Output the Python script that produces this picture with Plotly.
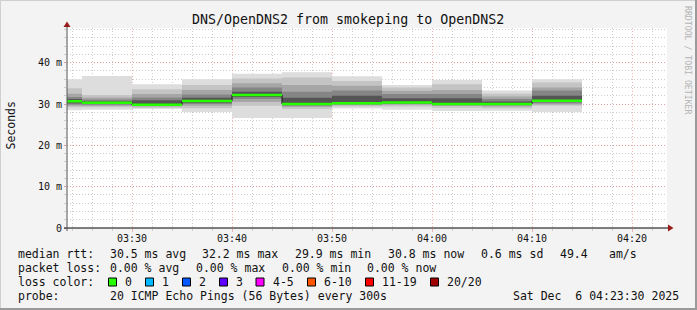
import plotly.graph_objects as go

# ---------------- data ----------------
block_starts = ["2025-12-06 03:20", "2025-12-06 03:25", "2025-12-06 03:30", "2025-12-06 03:35",
                "2025-12-06 03:40", "2025-12-06 03:45", "2025-12-06 03:50", "2025-12-06 03:55",
                "2025-12-06 04:00", "2025-12-06 04:05", "2025-12-06 04:10"]
block_end = "2025-12-06 04:15"
median_ms = [30.7, 30.3, 29.8, 30.75, 32.2, 30.0, 30.2, 30.4, 30.0, 30.0, 30.8]

# smoke bands (outer -> inner), lower and upper ping values in ms
smoke_lo = [
    [28.5, 28.6, 28.8, 28.1, 26.6, 26.6, 28.9, 28.6, 28.3, 28.4, 28.1],
    [29.2, 29.2, 29.1, 29.0, 29.6, 28.8, 29.4, 29.4, 29.1, 29.0, 29.6],
    [29.6, 29.5, 29.4, 29.6, 30.5, 29.3, 29.7, 29.8, 29.5, 29.4, 29.9],
    [29.9, 29.8, 29.6, 30.0, 31.2, 29.6, 29.9, 30.0, 29.8, 29.7, 30.2],
    [30.2, 30.0, 29.7, 30.3, 31.7, 29.8, 30.0, 30.2, 29.9, 29.9, 30.5],
]
smoke_hi = [
    [36.0, 36.8, 34.8, 36.0, 37.3, 37.7, 36.7, 34.6, 35.8, 33.3, 36.0],
    [33.8, 32.2, 33.6, 34.6, 36.2, 36.4, 35.6, 34.0, 34.8, 32.5, 35.2],
    [32.5, 31.6, 32.4, 33.4, 35.0, 34.6, 34.4, 33.2, 33.4, 31.8, 34.0],
    [31.7, 31.1, 31.6, 32.3, 34.0, 33.0, 33.3, 32.4, 32.4, 31.2, 33.3],
    [31.2, 30.7, 30.9, 31.5, 33.0, 31.5, 32.0, 31.4, 31.4, 30.6, 32.0],
]
smoke_colors = ["#dddddd", "#c4c4c4", "#a6a6a6", "#858585", "#555555"]

x_start = "2025-12-06 03:23:30"
x_stop = "2025-12-06 04:23:30"
y_tick_vals = [0, 10, 20, 30, 40]
y_tick_text = ["0", "10 m", "20 m", "30 m", "40 m"]

title_text = "DNS/OpenDNS2 from smokeping to OpenDNS2"
row_median = [("median rtt:", 16), ("30.5 ms avg", 107.5), ("32.2 ms max", 200),
              ("29.9 ms min", 293), ("30.8 ms now", 386), ("0.6 ms sd", 479),
              ("49.4", 558), ("am/s", 607)]
row_loss = [("packet loss:", 16), ("0.00 % avg", 107.5), ("0.00 % max", 193.5),
            ("0.00 % min", 279.5), ("0.00 % now", 364.5)]
loss_labels = ["0", "1", "2", "3", "4-5", "6-10", "11-19", "20/20"]
loss_colors = ["#26ff00", "#00b8ff", "#0059ff", "#5e00ff", "#ff00ff", "#ff5500", "#ff0000", "#a00000"]
loss_box_x = [108.5, 145.5, 182.5, 219.5, 256, 307.5, 365.5, 430.5]
probe_text = "20 ICMP Echo Pings (56 Bytes) every 300s"
date_text = "Sat Dec  6 04:23:30 2025"

# ---------------- figure ----------------
W, H = 697, 310
L, R, T, B = 67, 30, 28, 82
PW, PH = W - L - R, H - T - B

def fx(px):
    return (px - L) / PW

def fy(py):
    return (H - B - py) / PH

xs = block_starts + [block_end]
fig = go.Figure()
for k in range(len(smoke_lo)):
    lo = smoke_lo[k] + [smoke_lo[k][-1]]
    hi = smoke_hi[k] + [smoke_hi[k][-1]]
    fig.add_trace(go.Scatter(x=xs, y=lo, mode="lines", line=dict(width=0, shape="hv"),
                             hoverinfo="skip", showlegend=False))
    fig.add_trace(go.Scatter(x=xs, y=hi, mode="lines", line=dict(width=0, shape="hv"),
                             fill="tonexty", fillcolor=smoke_colors[k],
                             hoverinfo="skip", showlegend=False))

# thin black median step line
fig.add_trace(go.Scatter(x=xs, y=median_ms + [median_ms[-1]], mode="lines",
                         line=dict(color="#111111", width=1, shape="hv"),
                         hoverinfo="skip", showlegend=False))
# green median segments
gx, gy = [], []
for i, m in enumerate(median_ms):
    gx += [xs[i], xs[i + 1], None]
    gy += [m, m, None]
fig.add_trace(go.Scatter(x=gx, y=gy, mode="lines", line=dict(color=loss_colors[0], width=2.5),
                         hoverinfo="skip", showlegend=False))

mono = "DejaVu Sans Mono"
ann = []

def add_text(t, px, py, size=11.5, color="#111", xanchor="left", angle=0):
    ann.append(dict(xref="paper", yref="paper", x=fx(px), y=fy(py), text=t, showarrow=False,
                    font=dict(family=mono, size=size, color=color), xanchor=xanchor,
                    yanchor="middle", textangle=angle))

add_text(title_text, 348, 19.5, size=13.3, xanchor="center")
add_text("Seconds", 10.5, 126, size=11.5, xanchor="center", angle=-90)
add_text("RRDTOOL / TOBI OETIKER", 688, 60, size=8.2, color="#b4b4b4", xanchor="center", angle=90)

for t, px in row_median:
    add_text(t, px, 254)
for t, px in row_loss:
    add_text(t, px, 268)
add_text("loss color:", 16, 282)
for lbl, bx in zip(loss_labels, loss_box_x):
    add_text(lbl, bx + 14.5, 282)
add_text("probe:", 16, 296)
add_text(probe_text, 107.5, 296)
add_text(date_text, 680.5, 296, xanchor="right")

shapes = []
for c, bx in zip(loss_colors, loss_box_x):
    shapes.append(dict(type="rect", xref="paper", yref="paper", x0=fx(bx), x1=fx(bx + 8),
                       y0=fy(286), y1=fy(278), fillcolor=c, line=dict(color="#000", width=1)))
# axes with arrows
arr_col = "#9b1b1b"
shapes.append(dict(type="line", xref="paper", yref="paper", x0=fx(64), x1=fx(668), y0=0, y1=0,
                   line=dict(color="#000000", width=1)))
shapes.append(dict(type="line", xref="paper", yref="paper", x0=0, x1=0, y0=fy(231), y1=fy(26),
                   line=dict(color="#555", width=1)))
shapes.append(dict(type="path", xref="paper", yref="paper",
                   path=f"M {fx(668)},{fy(224.5)} L {fx(673.5)},{fy(228)} L {fx(668)},{fy(231.5)} Z",
                   fillcolor=arr_col, line=dict(color=arr_col, width=0)))
shapes.append(dict(type="path", xref="paper", yref="paper",
                   path=f"M {fx(63.5)},{fy(27)} L {fx(67)},{fy(21.5)} L {fx(70.5)},{fy(27)} Z",
                   fillcolor=arr_col, line=dict(color=arr_col, width=0)))
# image frame
shapes.append(dict(type="line", xref="paper", yref="paper", x0=fx(0), x1=fx(697), y0=fy(0.5), y1=fy(0.5),
                   line=dict(color="#d0d0d0", width=1)))
shapes.append(dict(type="line", xref="paper", yref="paper", x0=fx(0.5), x1=fx(0.5), y0=fy(0), y1=fy(310),
                   line=dict(color="#d0d0d0", width=1)))
shapes.append(dict(type="line", xref="paper", yref="paper", x0=fx(0), x1=fx(697), y0=fy(309), y1=fy(309),
                   line=dict(color="#9a9a9a", width=2)))
shapes.append(dict(type="line", xref="paper", yref="paper", x0=fx(696), x1=fx(696), y0=fy(0), y1=fy(310),
                   line=dict(color="#9a9a9a", width=2)))

major_grid = "rgba(230,130,130,0.6)"
minor_grid = "#cdcdcd"
fig.update_layout(
    width=W, height=H, margin=dict(l=L, r=R, t=T, b=B, pad=0),
    paper_bgcolor="#f3f3f3", plot_bgcolor="#ffffff",
    showlegend=False, annotations=ann, shapes=shapes,
    xaxis=dict(type="date", range=[x_start, x_stop], tickformat="%H:%M", dtick=600000,
               tick0="2025-12-06 03:30", showgrid=True, gridcolor=major_grid, griddash="1px,2px",
               gridwidth=1, zeroline=False, showline=False, ticks="outside", ticklen=3,
               tickcolor=major_grid, tickfont=dict(family=mono, size=10, color="#111"),
               ticklabelstandoff=-2,
               minor=dict(dtick=120000, tick0="2025-12-06 03:30", showgrid=True, gridcolor=minor_grid,
                          griddash="1px,2px", ticks="outside", ticklen=2, tickcolor=minor_grid),
               fixedrange=True),
    yaxis=dict(range=[0, 48.4], tickvals=y_tick_vals, ticktext=y_tick_text, showgrid=True,
               gridcolor=major_grid, griddash="1px,2px", zeroline=False, showline=False,
               ticks="outside", ticklen=2, tickcolor=major_grid,
               tickfont=dict(family=mono, size=10, color="#111"),
               minor=dict(dtick=2, showgrid=True, gridcolor=minor_grid, griddash="1px,2px",
                          ticks="outside", ticklen=2, tickcolor=minor_grid),
               fixedrange=True),
)

fig.write_html("out.html")
